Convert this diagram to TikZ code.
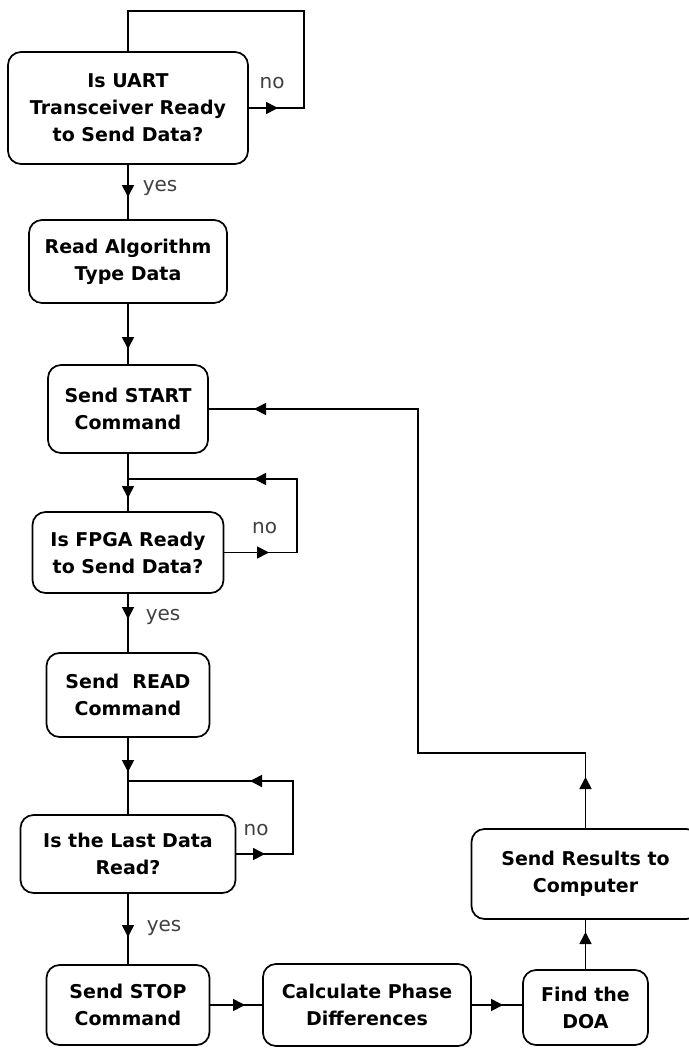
\documentclass[tikz,border=0pt]{standalone}
\usepackage{fontspec}
\newfontfamily\flowfont{DejaVu Sans}
\usepackage{xcolor}
\definecolor{cLine}{HTML}{000000}
\definecolor{cLbl}{HTML}{404040}
\usepackage{tikz}
\usetikzlibrary{positioning,arrows.meta,decorations.markings}
\tikzset{
  node-step/.style={draw=cLine,line width=1.7pt,rounded corners=13pt,
    inner sep=0pt,outer sep=0pt,align=center,font=\flowfont\bfseries\fontsize{19}{27}\selectfont},
  flow/.style={line width=1.7pt,draw=cLine,postaction={decorate}},
  tip-at/.style={decoration={markings,mark=at position #1 with
    {\arrow{Triangle[length=12pt,width=12pt]}}}},
  lbl/.style={font=\flowfont\fontsize{20}{24}\selectfont,text=cLbl,inner sep=2pt},
}

\begin{document}
\begin{tikzpicture}[x=1pt,y=1pt]
  \useasboundingbox (0,0) rectangle (688,-1049);
  % main column
  \node[node-step,minimum width=240pt,minimum height=112pt] (q1) at (128,-108)
    {Is UART\\Transceiver Ready\\to Send Data?};
  \node[node-step,minimum width=198pt,minimum height=83pt,below=56pt of q1] (r1)
    {Read Algorithm\\Type Data};
  \node[node-step,minimum width=160pt,minimum height=88pt,below=62pt of r1] (s1)
    {Send START\\Command};
  \node[node-step,minimum width=191pt,minimum height=81pt,below=59pt of s1] (q2)
    {Is FPGA Ready\\to Send Data?};
  \node[node-step,minimum width=163pt,minimum height=84pt,below=60pt of q2] (s2)
    {Send\ \ READ\\Command};
  \node[node-step,minimum width=215pt,minimum height=78pt,below=78pt of s2] (q3)
    {Is the Last Data\\Read?};
  \node[node-step,minimum width=163pt,minimum height=80pt,below=72pt of q3] (s3)
    {Send STOP\\Command};
  % bottom row and return
  \node[node-step,minimum width=208pt,minimum height=82pt,right=53.5pt of s3] (calc)
    {Calculate Phase\\Differences};
  \node[node-step,minimum width=125pt,minimum height=75pt,right=52pt of calc,yshift=-2.5pt] (doa)
    {Find the\\DOA};
  \node[node-step,minimum width=228pt,minimum height=90pt,above=51pt of doa] (res)
    {Send Results to\\Computer};

  \draw[flow,tip-at=30pt] (q1.east) -- node[lbl,above=16pt,pos=0.43] (no1) {no}
    ++(56,0) |- ([yshift=41pt]q1.north) -- (q1.north);
  \draw[flow,tip-at=33pt] (q1.south) -- node[lbl,right=12pt,pos=0.43] (yes1) {yes} (r1.north);
  \draw[flow,tip-at=46pt] (r1.south) -- (s1.north);
  \draw[flow,tip-at=45pt] (s1.south) -- (q2.north);
  \draw[flow,tip-at=45.5pt,tip-at=-126pt] (q2.east) -- node[lbl,above=16pt,pos=0.56] (no2) {no}
    ++(73.5,0) |- ([yshift=33pt]q2.north);
  \draw[flow,tip-at=26pt] (q2.south) -- node[lbl,right=15pt,pos=0.4] (yes2) {yes} (s2.north);
  \draw[flow,tip-at=35pt] (s2.south) -- (q3.north);
  \draw[flow,tip-at=29.5pt,tip-at=-122pt] (q3.east) -- node[lbl,above=15pt,pos=0.36] (no3) {no}
    ++(57.5,0) |- ([yshift=34pt]q3.north);
  \draw[flow,tip-at=44pt] (q3.south) -- node[lbl,right=16pt,pos=0.49] (yes3) {yes} (s3.north);
  \draw[flow,tip-at=35.5pt] (s3.east) -- (s3.east -| calc.west);
  \draw[flow,tip-at=32pt] (calc.east) -- (calc.east -| doa.west);
  \draw[flow,tip-at=38pt] (doa.north) -- (res.south);
  \draw[flow,tip-at=52pt,tip-at=-46pt] (res.north) -- ++(0,76) -| ([xshift=210pt]s1.east) -- (s1.east);
\end{tikzpicture}
\end{document}
